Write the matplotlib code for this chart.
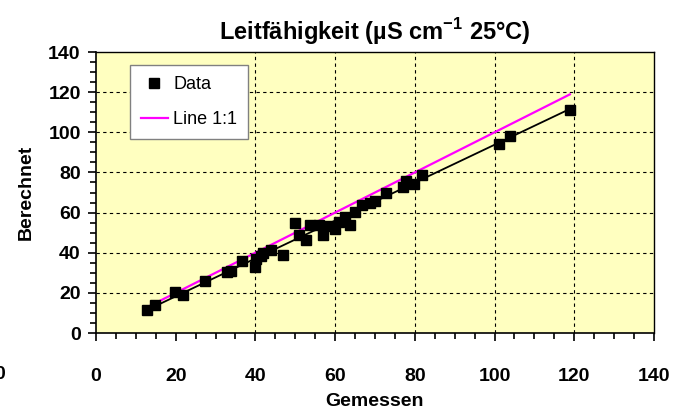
import numpy as np
import matplotlib.pyplot as plt
from matplotlib.ticker import MultipleLocator

plt.rcParams['font.family'] = ['Liberation Sans', 'DejaVu Sans']
plt.rcParams['mathtext.fontset'] = 'custom'
plt.rcParams['mathtext.rm'] = 'Liberation Sans:bold'
plt.rcParams['mathtext.bf'] = 'Liberation Sans:bold'

gemessen = [12.7, 14.8, 19.8, 21.9, 27.4, 32.8, 34.0, 36.6, 39.8, 40.1,
            41.5, 42.0, 44.0, 46.9, 50.0, 51.0, 52.8, 53.8, 55.9, 56.9,
            58.5, 60.0, 60.9, 62.6, 63.8, 64.9, 66.8, 68.8, 70.0, 72.8,
            77.0, 77.9, 79.7, 81.9, 101.0, 104.0, 118.9]
berechnet = [11.3, 13.8, 20.5, 18.8, 25.8, 30.5, 31.0, 35.8, 33.0, 37.0,
             38.5, 40.0, 41.5, 38.8, 54.7, 49.0, 46.3, 53.8, 54.0, 49.0,
             53.5, 52.0, 55.5, 58.0, 54.0, 60.5, 63.8, 65.0, 66.0, 70.0,
             72.7, 75.5, 74.0, 78.8, 94.2, 98.0, 111.3]

# 1:1-Linie Bereich
line_x = [12.3, 118.9]

x = np.array(gemessen)
y = np.array(berechnet)

fig = plt.figure(figsize=(6.88, 4.12), dpi=100)
ax = fig.add_axes([0.1395, 0.1917, 0.811, 0.682])
ax.set_facecolor('#FFFFC0')

# Gitterlinien
for gx in [40, 60, 80, 100, 120]:
    ax.axvline(gx, color='black', lw=0.8, ls=(0, (3, 3)), zorder=1)
for gy in [20, 40, 60, 80, 100, 120]:
    ax.axhline(gy, color='black', lw=0.8, ls=(0, (3, 3)), zorder=1)

# Ausgleichsgerade
k, d = np.polyfit(x, y, 1)
fx = np.array([x.min(), x.max()])
ax.plot(fx, k * fx + d, color='black', lw=1.3, zorder=2)

ax.plot(line_x, line_x, color='#FF00FF', lw=1.6, label='Line 1:1', zorder=3)
ax.plot(x, y, 's', color='black', ms=6.5, label='Data', zorder=4)

ax.set_xlim(0, 140)
ax.set_ylim(0, 140)
ax.xaxis.set_major_locator(MultipleLocator(20))
ax.xaxis.set_minor_locator(MultipleLocator(5))
ax.yaxis.set_major_locator(MultipleLocator(20))
ax.yaxis.set_minor_locator(MultipleLocator(5))
ax.tick_params(axis='both', which='major', length=6, width=1.2, direction='out')
ax.tick_params(axis='both', which='minor', length=4, width=1.2, direction='out')
ax.tick_params(axis='x', which='major', pad=19, labelsize=14)
ax.tick_params(axis='y', which='major', pad=5, labelsize=14)
for lab in ax.get_xticklabels() + ax.get_yticklabels():
    lab.set_fontweight('bold')
for sp in ax.spines.values():
    sp.set_linewidth(1.2)
ax.spines['top'].set_linewidth(1.0)
ax.spines['right'].set_linewidth(1.0)

ax.set_title('Leitfähigkeit (µS cm$^{-1}$ 25°C)', fontsize=17,
             fontweight='bold', pad=9)
ax.set_xlabel('Gemessen', fontsize=14, fontweight='bold', labelpad=6)
ax.set_ylabel('Berechnet', fontsize=14, fontweight='bold', labelpad=10)

handles, labels = ax.get_legend_handles_labels()
leg = ax.legend(handles[::-1], labels[::-1], loc='upper left',
                bbox_to_anchor=(0.045, 0.985), fontsize=13, frameon=True,
                fancybox=False, edgecolor='#808080', framealpha=1,
                labelspacing=1.0, handlelength=1.5, handletextpad=0.3,
                borderpad=0.6)
leg.get_frame().set_linewidth(1.0)

# abgeschnittene Beschriftung am linken Rand
fig.text(0.0, 0.09, '0', fontsize=14, fontweight='bold', ha='center', va='center')

fig.savefig('out.png', dpi=100)
